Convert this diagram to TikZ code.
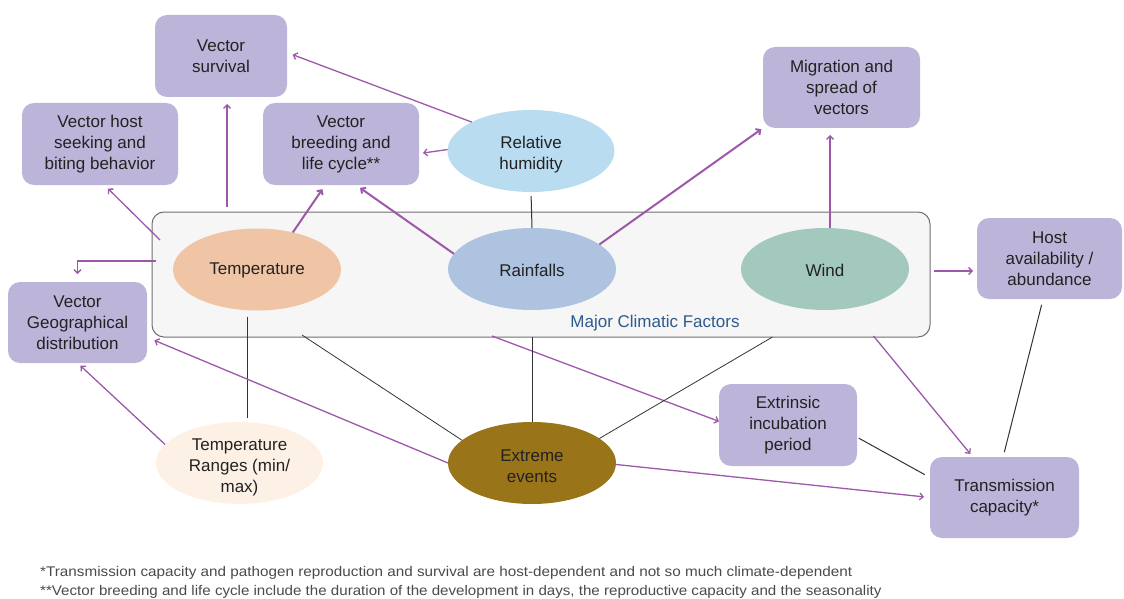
\documentclass[tikz,border=0pt]{standalone}
\usepackage{fontspec}
\setmainfont{Liberation Sans}
\usetikzlibrary{shapes.geometric,arrows.meta,calc}
\definecolor{boxc}{HTML}{BCB5D9}
\definecolor{humc}{HTML}{BADCF0}
\definecolor{tempc}{HTML}{EFC5A5}
\definecolor{rainc}{HTML}{AEC3E0}
\definecolor{windc}{HTML}{A3C8BE}
\definecolor{extrc}{HTML}{9A7419}
\definecolor{trc}{HTML}{FDF1E6}
\definecolor{arrc}{HTML}{9D58AA}
\definecolor{linec}{HTML}{333333}
\definecolor{framefill}{HTML}{F6F6F6}
\definecolor{framedraw}{HTML}{707070}
\definecolor{factc}{HTML}{2E5A8E}
\definecolor{txtc}{HTML}{222222}
\definecolor{fnc}{HTML}{4A4A4A}
\newcommand{\diagfont}{\fontsize{17}{21}\selectfont}
\newcommand{\notefont}{\fontsize{14}{17}\selectfont}
\begin{document}
\begin{tikzpicture}[x=1pt,y=-1pt,
  box/.style={rectangle,rounded corners=12pt,fill=boxc,inner sep=0pt,outer sep=0pt,align=center,text=txtc,font=\diagfont},
  ell/.style={ellipse,inner sep=0pt,outer sep=0pt,minimum width=168pt,minimum height=82pt},
  lbl/.style={align=center,text=txtc,font=\diagfont,inner sep=0pt},
  parr/.style={draw=arrc,line width=1.3pt,-{Straight Barb[length=3.5pt,width=7pt]}},
  tparr/.style={parr,line width=2pt},
  conn/.style={draw=linec,line width=1pt},
  fconn/.style={draw=linec,line width=0.8pt},
  note/.style={anchor=west,font=\notefont,text=fnc,inner sep=0pt},
]
\useasboundingbox (0,0) rectangle (1124,599);

% frame of major climatic factors
\node[rectangle,rounded corners=12pt,fill=framefill,draw=framedraw,line width=1pt,
      inner sep=0pt,outer sep=0pt,minimum width=778pt,minimum height=125pt] (frame) at (541,274.5) {};
\node[font=\diagfont,text=factc,inner sep=0pt] (mcf) at (655,323) {Major Climatic Factors};

% boxes
\node[box,minimum width=132pt,minimum height=82pt] (surv) at (221,56) {Vector\\survival};
\node[box,minimum width=156pt,minimum height=82pt] (host) at (100,144) {Vector host\\seeking and\\biting behavior};
\node[box,minimum width=156pt,minimum height=82pt] (breed) at (341,144) {Vector\\breeding and\\life cycle**};
\node[box,minimum width=157pt,minimum height=81pt] (migr) at (841.5,87.5) {Migration and\\spread of\\vectors};
\node[box,minimum width=145pt,minimum height=81pt] (hostav) at (1049.5,258.5) {Host\\availability /\\abundance};
\node[box,minimum width=139pt,minimum height=81pt] (geo) at (77.5,322.5) {Vector\\Geographical\\distribution};
\node[box,minimum width=138pt,minimum height=82pt] (ext) at (788,425) {Extrinsic\\incubation\\period};
\node[box,minimum width=149pt,minimum height=81pt] (trans) at (1004.5,497.5) {Transmission\\capacity*};

% ellipses
\node[ell,fill=humc,minimum width=167pt] (hum) at (531,151) {};
\node[lbl] (humt) at (531,155) {Relative\\humidity};
\node[ell,fill=tempc] (temp) at (257,269.5) {};
\node[lbl] (tempt) at (257,270) {Temperature};
\node[ell,fill=rainc] (rain) at (532,269) {};
\node[lbl] (raint) at (532,270) {Rainfalls};
\node[ell,fill=windc] (wind) at (825,269) {};
\node[lbl] (windt) at (825,270) {Wind};
\node[ell,fill=extrc] (extr) at (532,463) {};
\node[lbl] (extrt) at (532,466.5) {Extreme\\events};
\node[ell,fill=trc,minimum width=167pt] (tr) at (239.5,463) {};
\node[lbl] (trt) at (239.5,467) {Temperature\\Ranges (min/\\max)};

% free ends on the frame
\coordinate (csurv) at ($(frame.north west)+(75,-5)$);
\coordinate (chost) at ($(frame.north west)+(8,28)$);
\coordinate (cgeo) at ($(frame.north west)+(4,49)$);
\coordinate (chostav) at ($(frame.north east)+(4,59)$);
\coordinate (ctrans) at ($(frame.south west)+(721.5,-1)$);
\coordinate (cext) at ($(frame.south west)+(340,-1)$);
\coordinate (cextrA) at ($(frame.south west)+(150,-2)$);
\coordinate (cextrB) at ($(frame.south west)+(620.5,0)$);
\coordinate (crainb) at (rain |- frame.south);

% connectors
\draw[parr,shorten >=6pt] (hum.154) -- (surv.3);
\draw[parr,shorten >=4pt] (hum.179) -- (breed.-7);
\draw[conn,shorten <=4pt] (hum.south) -- (rain.north);
\draw[parr,shorten >=7pt] (csurv) -- (csurv |- surv.south);
\draw[tparr,shorten >=5pt] (temp.46) -- (breed.-111);
\draw[tparr,shorten >=5pt] (rain.169) -- (breed.-70);
\draw[parr,shorten >=5pt] (chost) -- (host.-84);
\draw[parr,shorten >=8pt] (cgeo) -| (geo.north);
\draw[tparr,shorten >=2pt] (rain.20) -- (migr.south west);
\draw[parr,shorten >=7pt] (wind.83) -- (wind.83 |- migr.south);
\draw[parr,shorten >=4pt] (chostav) -- (chostav -| hostav.west);
\draw[conn,shorten <=6pt,shorten >=5pt] (hostav.-99) -- (trans.92);
\draw[parr,shorten >=4pt] (ctrans) -- (trans.128);
\draw[conn,shorten <=2pt,shorten >=6pt] (ext.-10) -- (trans.165);
\draw[parr,shorten >=6pt] (extr.-1) -- (trans.west);
\draw[parr] (cext) -- (ext.177);
\draw[fconn] (crainb) -- (extr.north);
\draw[fconn] (cextrB) -- (extr.20);
\draw[fconn] (cextrA) -- (extr.162);
\draw[conn,shorten <=6pt,shorten >=4pt] ([xshift=-10pt]temp.south) -- ([xshift=-10pt]temp.south |- tr.north);
\draw[parr,shorten >=4pt] (tr.166) -- (geo.south);
\draw[parr,shorten >=8pt] (extr.west) -- (geo.-12);

% footnotes
\node[note] (fn1) at (40,573) {\scalebox{1.09}[1]{*Transmission capacity and pathogen reproduction and survival are host-dependent and not so much climate-dependent}};
\node[note] (fn2) at (40,592) {\scalebox{1.08}[1]{**Vector breeding and life cycle include the duration of the development in days, the reproductive capacity and the seasonality}};
\end{tikzpicture}
\end{document}
